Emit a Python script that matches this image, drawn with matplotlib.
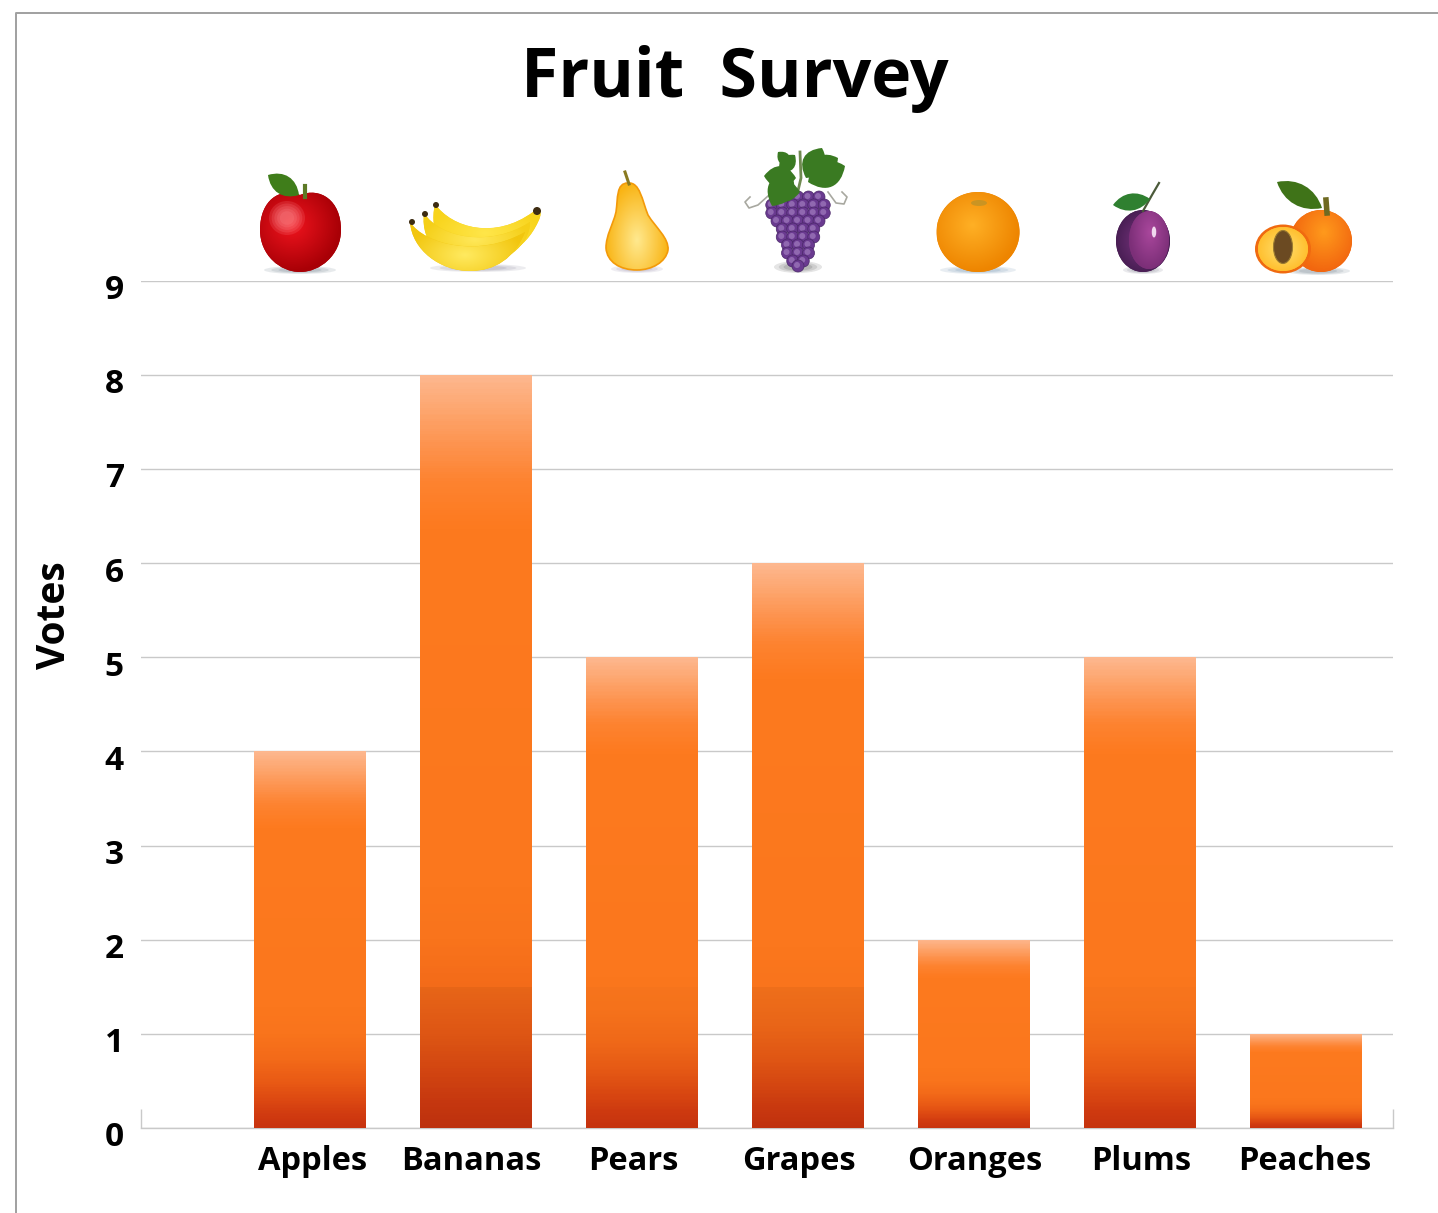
import numpy as np
import matplotlib
matplotlib.use('Agg')
import matplotlib.pyplot as plt
from matplotlib.colors import LinearSegmentedColormap
from matplotlib.patches import Ellipse, PathPatch
from matplotlib.path import Path
from matplotlib.transforms import ScaledTranslation

plt.rcParams['font.family'] = ['Open Sans', 'DejaVu Sans']

fruits = ['Apples', 'Bananas', 'Pears', 'Grapes', 'Oranges', 'Plums', 'Peaches']
votes = [4, 8, 5, 6, 2, 5, 1]
yticks = [0, 1, 2, 3, 4, 5, 6, 7, 8, 9]
title = 'Fruit  Survey'
ylabel = 'Votes'

# tick labels sit a little off centre in the original (pixels)
label_shift = [3, -5, -9, -9, 1, 1, -1]
# slightly darker block under 1.5 votes
band_dark = [0.0, 0.05, 0.015, 0.04, 0.0, 0.01, 0.0]

W, H = 1438, 1213
fig = plt.figure(figsize=(W / 100, H / 100), dpi=100, facecolor='white')
ax = fig.add_axes([141 / W, 1 - 1128 / H, (1393 - 141) / W, (1128 - 280.5) / H])

bar_cmap = LinearSegmentedColormap.from_list('bar', [
    (0.0, '#C8340F'), (0.03, '#D03A10'), (0.07, '#DC4812'), (0.12, '#E95A15'),
    (0.18, '#F36A19'), (0.25, '#F9741C'), (0.32, '#FB771D'), (0.80, '#FD7A1F'),
    (0.86, '#FD8330'), (0.91, '#FD9450'), (0.96, '#FDA872'), (1.0, '#FDB78E')])

x = np.arange(len(fruits))
bars = ax.bar(x, votes, width=0.669, facecolor='none', edgecolor='none', zorder=2)
for bar, v, dark in zip(bars, votes, band_dark):
    t = np.linspace(1, 0, 400)
    grad = bar_cmap(t)[:, :3]
    grad[t * v < 1.5] *= 1 - dark
    im = ax.imshow(grad[:, None, :], aspect='auto', zorder=3, interpolation='nearest',
                   extent=(bar.get_x(), bar.get_x() + bar.get_width(), 0, v))
    im.set_clip_path(bar)

ax.set_xlim(-1.018, 6.524)
ax.set_ylim(0, 9)
ax.set_yticks(yticks)
ax.set_xticks(x)
ax.set_xticklabels(fruits)
ax.grid(axis='y', color='#c9c9c9', linewidth=1.0, zorder=0)
ax.set_axisbelow(True)
ax.tick_params(length=0)
ax.tick_params(axis='x', pad=12)
ax.tick_params(axis='y', pad=13)
for s in ['top', 'left', 'right']:
    ax.spines[s].set_visible(False)
ax.spines['bottom'].set_color('#c9c9c9')
ax.spines['bottom'].set_linewidth(1.0)
ax.vlines([-1.018, 6.524], 0, 0.2, color='#c9c9c9', linewidth=1.0, clip_on=False)

for lab, dx in zip(ax.get_xticklabels(), label_shift):
    lab.set_fontsize(23.5)
    lab.set_fontweight('bold')
    lab.set_transform(lab.get_transform() + ScaledTranslation(dx / 100, 0, fig.dpi_scale_trans))
for lab in ax.get_yticklabels():
    lab.set_fontsize(24)
    lab.set_fontweight('bold')
    lab.set_transform(lab.get_transform() + ScaledTranslation(1 / 100, -6 / 100, fig.dpi_scale_trans))

fig.text(55 / W, 1 - 615 / H, ylabel, rotation=90, fontsize=28, fontweight='bold',
         ha='center', va='center', color='black')
fig.text(735 / W, 1 - 79 / H, title, fontsize=49, fontweight='bold',
         ha='center', va='center', color='black')

# overlay in picture pixels for the frame and the fruit icons
ov = fig.add_axes([0, 0, 1, 1], facecolor='none', zorder=5)
ov.set_axis_off()


def blob(path, inner, outer, focus=None, edge=None, z=2):
    # closed shape filled with a radial gradient
    patch = PathPatch(path, facecolor=outer, edgecolor='none', zorder=z)
    ov.add_patch(patch)
    x0, y0 = path.vertices.min(axis=0)
    x1, y1 = path.vertices.max(axis=0)
    fx, fy = focus if focus else ((x0 + x1) / 2, (y0 + y1) / 2)
    X, Y = np.meshgrid(np.linspace(x0, x1, 80), np.linspace(y0, y1, 80))
    rx = max(fx - x0, x1 - fx)
    ry = max(fy - y0, y1 - fy)
    r = np.clip(np.hypot((X - fx) / rx, (Y - fy) / ry), 0, 1)
    cm = LinearSegmentedColormap.from_list('b', [inner, outer])
    im = ov.imshow(cm(r), extent=(x0, x1, y1, y0), aspect='auto', zorder=z + 0.01, interpolation='bilinear')
    im.set_clip_path(patch)
    if edge:
        ov.add_patch(PathPatch(path, facecolor='none', edgecolor=edge, linewidth=1.2, zorder=z + 0.02))
    return patch


def ellipse_path(cx, cy, rx, ry):
    p = Path.unit_circle()
    return Path(p.vertices * [rx, ry] + [cx, cy], p.codes)


def curve(*pts):
    # closed cubic bezier through start + triples of points
    codes = [Path.MOVETO] + [Path.CURVE4] * (len(pts) - 1)
    return Path(pts, codes)


def shadow(cx, cy, rx, ry=4, color='#7f8f9a'):
    for k, a in zip([1.0, 0.8, 0.6], [0.18, 0.2, 0.25]):
        ov.add_patch(Ellipse((cx, cy), 2 * rx * k, 2 * ry * k, facecolor=color, alpha=a,
                             edgecolor='none', zorder=1))


def glow(cx, cy, w, h, color, alpha=0.16):
    for k in [1.0, 0.85, 0.7, 0.55, 0.4]:
        ov.add_patch(Ellipse((cx, cy), w * k, h * k, facecolor=color, alpha=alpha,
                             edgecolor='none', zorder=3))


def leaf(x0, y0, x1, y1, color='#3f7d1a', bulge=0.35):
    dx, dy = x1 - x0, y1 - y0
    nx, ny = -dy * bulge, dx * bulge
    p = curve((x0, y0), (x0 + dx * .3 + nx, y0 + dy * .3 + ny), (x0 + dx * .7 + nx, y0 + dy * .7 + ny), (x1, y1),
              (x0 + dx * .7 - nx, y0 + dy * .7 - ny), (x0 + dx * .3 - nx, y0 + dy * .3 - ny), (x0, y0))
    ov.add_patch(PathPatch(p, facecolor=color, edgecolor='none', zorder=3.5))


# frame
ov.plot([16, 16, W], [H, 13, 13], color='#a0a0a0', linewidth=1.4, zorder=1)

# apple
shadow(300, 270, 36)
apple = curve((300, 195), (320, 187), (341, 200), (341, 230), (341, 255), (320, 272), (300, 272),
              (280, 272), (260, 255), (260, 230), (260, 200), (280, 187), (300, 195))
blob(apple, '#F0141E', '#A80006', focus=(292, 225))
glow(287, 218, 36, 34, '#FF9A9E')
ov.plot([305, 305], [186, 197], color='#5d7a26', linewidth=3, zorder=3)
leaf(268, 175, 299, 195, '#3f7d1a')

# banana, three fingers back to front
shadow(478, 268, 48, color='#9a96a8')
banana_back = curve((435, 204), (452, 228), (495, 240), (533, 212), (542, 208), (542, 214), (538, 222),
                    (525, 250), (500, 262), (470, 262), (445, 255), (428, 235), (435, 204))
banana_mid = curve((424, 213), (440, 238), (490, 248), (530, 222), (530, 245), (505, 266), (470, 266),
                   (445, 264), (420, 245), (424, 213))
banana_front = curve((410, 222), (425, 245), (480, 258), (525, 232), (515, 258), (495, 271), (470, 271),
                     (440, 271), (412, 250), (410, 222))
blob(banana_back, '#FFE64A', '#F8D41C', z=2)
blob(banana_mid, '#FFE85A', '#F5CF18', z=2.1)
blob(banana_front, '#FFEA60', '#F2C60E', focus=(465, 255), z=2.2)
for tx, ty, s in [(412, 222, 6), (425, 214, 6), (436, 205, 6), (537, 211, 8)]:
    ov.add_patch(Ellipse((tx, ty), s, s, facecolor='#3d2c12', edgecolor='none', zorder=4))

# pear
shadow(637, 269, 26, color='#a8a0b8')
pear = curve((628, 183), (640, 182), (642, 200), (648, 215), (656, 228), (669, 238), (668, 250),
             (666, 262), (652, 270), (637, 270), (620, 270), (607, 262), (606, 248),
             (606, 235), (613, 225), (616, 212), (618, 198), (616, 183), (628, 183))
blob(pear, '#FFE98F', '#F9B414', focus=(637, 240), edge='#F39A0A')
ov.plot([625, 629], [172, 184], color='#8a7a20', linewidth=2.2, zorder=3)

# grapes
shadow(798, 267, 24, ry=6, color='#6f6f6f')
ov.plot([800, 801, 797], [152, 178, 195], color='#6f8a50', linewidth=2, zorder=1.5)
for row, (yy, n) in enumerate(zip([197, 205, 213, 221, 229, 237, 245, 253, 261, 266],
                                  [5, 6, 6, 5, 4, 4, 3, 3, 2, 1])):
    for i in range(n):
        cx = 798 + (i - (n - 1) / 2) * 10.5
        ov.add_patch(Ellipse((cx, yy), 12, 12, facecolor='#6A3A90', edgecolor='#4a2868',
                             linewidth=0.5, zorder=3 + row * 0.01))
        ov.add_patch(Ellipse((cx - 1, yy - 1), 6, 6, facecolor='#9068B0', edgecolor='none',
                             zorder=3 + row * 0.01))
for lx0, ly0, lx1, ly1 in [(764, 176, 796, 178), (772, 206, 790, 172), (768, 190, 800, 192),
                           (780, 172, 795, 155), (790, 165, 778, 152),
                           (808, 182, 845, 166), (806, 178, 822, 148), (812, 172, 838, 158)]:
    leaf(lx0, ly0, lx1, ly1, '#3a7a22', bulge=0.45)
ov.plot([768, 758, 749, 745, 750], [196, 205, 208, 202, 197], color='#a8a8a0', linewidth=1.2, zorder=1.5)
ov.plot([828, 836, 844, 847, 842], [192, 203, 204, 197, 192], color='#a8a8a0', linewidth=1.2, zorder=1.5)

# orange
shadow(978, 270, 38, color='#80a0b8')
blob(ellipse_path(978, 232, 41.5, 40), '#FFB025', '#EE8500', focus=(972, 225))
ov.add_patch(Ellipse((979, 203), 16, 6, facecolor='#B8922A', alpha=0.7, edgecolor='none', zorder=3))

# plum
shadow(1143, 270, 20, color='#8a8a9a')
blob(ellipse_path(1143, 241, 27, 31), '#7A3480', '#4A1F55')
blob(ellipse_path(1149, 240, 20, 29), '#A9479C', '#7C2F78', focus=(1150, 232), z=2.5)
ov.add_patch(Ellipse((1154, 232), 4.5, 11, facecolor='#F0D8EE', edgecolor='none', zorder=3))
ov.plot([1143, 1152, 1159], [211, 195, 183], color='#4b5a3a', linewidth=1.6, zorder=3)
leaf(1113, 205, 1150, 199, '#2f8030', bulge=0.3)

# peach
shadow(1318, 271, 32, color='#7f8f9a')
blob(ellipse_path(1321, 241, 31, 31), '#FF9A1C', '#F2660F', focus=(1324, 232))
ov.plot([1326, 1327], [200, 213], color='#6f6a22', linewidth=4, zorder=3)
leaf(1277, 182, 1322, 208, '#3f7318', bulge=0.27)
ov.add_patch(PathPatch(ellipse_path(1283, 249, 28, 24.5), facecolor='#F06A10', edgecolor='none', zorder=4))
blob(ellipse_path(1283, 249, 25, 22), '#FFE070', '#FFC030', z=4.1)
ov.add_patch(Ellipse((1283, 247), 19, 33, facecolor='#6b4a22', edgecolor='#9a7a30', linewidth=0.8, zorder=4.2))

ov.set_xlim(0, W)
ov.set_ylim(H, 0)

fig.savefig('out.png', dpi=100)
